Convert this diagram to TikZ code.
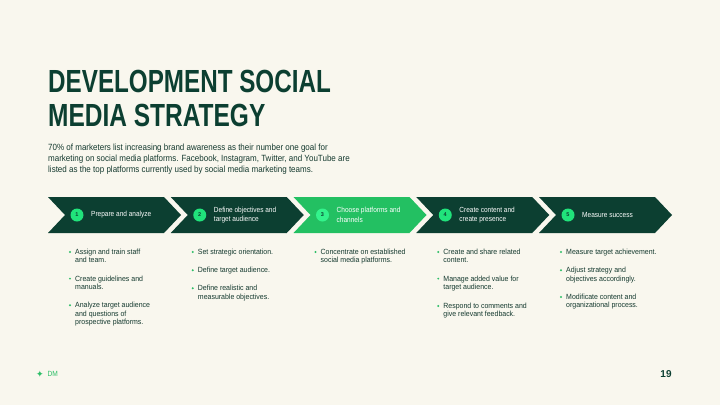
\documentclass[tikz,border=0pt]{standalone}
\usepackage{fontspec}
\setmainfont{Liberation Sans}
\newfontfamily\titleA{Liberation Sans}[FakeStretch=0.757]
\newfontfamily\titleB{Liberation Sans}[FakeStretch=0.765]
\newfontfamily\parafont{Liberation Sans}[FakeStretch=0.89]
\newfontfamily\labfont{Liberation Sans}[FakeStretch=0.88]
\newfontfamily\itemfont{Liberation Sans}[FakeStretch=0.93]
\newfontfamily\symfont{DejaVu Sans}
\definecolor{bg}{HTML}{F9F7EE}
\definecolor{dark}{HTML}{0C3F31}
\definecolor{lgreen}{HTML}{23C062}
\definecolor{numc}{HTML}{20E37B}
\definecolor{numlight}{HTML}{33F38C}
\definecolor{dotc}{HTML}{2DBE67}
\definecolor{txt}{HTML}{153A2F}
\newcommand\bitem[4]{%
  \fill[dotc] (#2+22,#3+0.3) circle (1.1);
  \node[item] (#1) at (#2+27,#3-2.9) {#4};}
\begin{document}
\begin{tikzpicture}[x=1pt,y=-1pt,
  num/.style={circle, fill=numc, inner sep=0pt, minimum size=13pt, text=dark,
    font=\bfseries\fontsize{5.5}{5.5}\selectfont},
  lab/.style={anchor=west, align=left, text=white, inner sep=0pt,
    font=\labfont\fontsize{7.4}{9.4}\selectfont},
  item/.style={anchor=north west, align=left, inner sep=0pt, text=txt,
    font=\itemfont\fontsize{7.5}{8.4}\selectfont}]
\fill[bg] (0,0) rectangle (720,405);
\useasboundingbox (0,0) rectangle (720,405);
% title
\node[anchor=base west, inner sep=0pt, text=dark, font=\titleA\bfseries\fontsize{32}{32}\selectfont] (t1) at (48,92) {DEVELOPMENT SOCIAL};
\node[anchor=base west, inner sep=0pt, text=dark, font=\titleB\bfseries\fontsize{32}{32}\selectfont] (t2) at (48,126) {MEDIA STRATEGY};
% paragraph
\node[anchor=north west, inner sep=0pt, align=left, text=txt, font=\parafont\fontsize{9}{11}\selectfont] (para) at (48,144)
 {70\% of marketers list increasing brand awareness as their number one goal for\\
  marketing on social media platforms. Facebook, Instagram, Twitter, and YouTube are\\
  listed as the top platforms currently used by social media marketing teams.};
% chevrons
\foreach \x/\c in {48/dark,170.75/dark,293.5/lgreen,416.25/dark,539/dark}
  \fill[\c] (\x,197) -- ++(116,0) -- ++(17,18) -- ++(-17,18) -- ++(-116,0) -- ++(17,-18) -- cycle;
\node[num] (n1) at (77,215) {1};
\node[num] (n2) at (199.75,215) {2};
\node[num, fill=numlight] (n3) at (322.5,215) {3};
\node[num] (n4) at (445.25,215) {4};
\node[num] (n5) at (568,215) {5};
\node[lab] (l1) at (91,215) {Prepare and analyze};
\node[lab] (l2) at (213.75,215) {Define objectives and\\target audience};
\node[lab] (l3) at (336.5,215) {Choose platforms and\\channels};
\node[lab] (l4) at (459.25,215) {Create content and\\create presence};
\node[lab] (l5) at (582,215) {Measure success};
% bullet items
\bitem{a1}{48}{251.7}{Assign and train staff\\and team.}
\bitem{a2}{48}{278.3}{Create guidelines and\\manuals.}
\bitem{a3}{48}{305}{Analyze target audience\\and questions of\\prospective platforms.}
\bitem{b1}{170.75}{251.7}{Set strategic orientation.}
\bitem{b2}{170.75}{270}{Define target audience.}
\bitem{b3}{170.75}{288}{Define realistic and\\measurable objectives.}
\bitem{c1}{293.5}{251.7}{Concentrate on established\\social media platforms.}
\bitem{d1}{416.25}{251.7}{Create and share related\\content.}
\bitem{d2}{416.25}{278.3}{Manage added value for\\target audience.}
\bitem{d3}{416.25}{305.7}{Respond to comments and\\give relevant feedback.}
\bitem{e1}{539}{251.7}{Measure target achievement.}
\bitem{e2}{539}{270}{Adjust strategy and\\objectives accordingly.}
\bitem{e3}{539}{296.7}{Modificate content and\\organizational process.}
% footer
\node[inner sep=0pt, text=dotc, font=\symfont\fontsize{9}{9}\selectfont] (star) at (40,374) {✦};
\node[anchor=west, inner sep=0pt, text=dotc, font=\labfont\fontsize{7.5}{7.5}\selectfont] (dm) at (47.5,374) {DM};
\node[inner sep=0pt, text=dark, font=\bfseries\fontsize{10}{10}\selectfont] (pg) at (666,374) {19};
\end{tikzpicture}
\end{document}
